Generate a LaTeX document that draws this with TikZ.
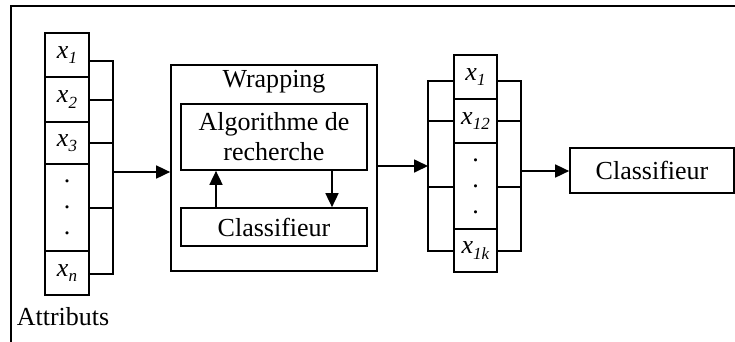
\documentclass[tikz,border=0pt]{standalone}
\usepackage{fontspec}
\setmainfont{Liberation Serif}
\usetikzlibrary{arrows.meta}
% italic x with a small italic index
\newcommand\xsub[1]{\textit{x}\raisebox{-0.2em}{\fontsize{17}{17}\selectfont\textit{#1}}}

\begin{document}
\begin{tikzpicture}[x=1pt,y=-1pt,line width=1.7pt,
  every node/.style={font=\fontsize{26}{30}\selectfont,inner sep=0pt},
  lcell/.style={draw,minimum width=44pt},
  rcell/.style={draw,minimum width=43pt},
  dotcell/.style={align=center,font=\fontsize{26}{26}\selectfont},
  panel/.style={draw,minimum width=186pt},
  link/.style={-{Triangle[length=14pt,width=13pt]}},
  wire/.style={line cap=rect}
]
\useasboundingbox (0,0) rectangle (735,341);

% outer frame (top and left edges)
\draw (740,6) -- (11,6) -- (11,345);

% ---- input attributes ----
\node[lcell,minimum height=44pt] (a1) at (67,55) {\xsub{1}};
\node[lcell,minimum height=45pt] (a2) at (67,99.5) {\xsub{2}};
\node[lcell,minimum height=42pt] (a3) at (67,143) {\xsub{3}};
\node[lcell,minimum height=87pt,dotcell] (ad) at (67,207.5) {.\\.\\.};
\node[lcell,minimum height=44pt] (an) at (67,273) {\xsub{n}};
\node[anchor=base west] (attr) at (16,325) {Attributs};

% collector bus
\coordinate (lt) at (113,61);
\coordinate (lb) at (113,274);
\coordinate (lm) at (113,172);
\draw[wire] (a1.east |- lt) -- (lt) -- (lb) -- (an.east |- lb);
\draw (a2.east |- 0,100) -- (lt |- 0,100);
\draw (a3.east) -- (a3.east -| lt);
\draw (ad.east |- 0,208) -- (lt |- 0,208);

% ---- wrapping block ----
\node[draw,minimum width=206pt,minimum height=206pt] (wrap) at (274,168) {};
\node (wlab) at (274,82) {Wrapping};
\node[panel,minimum height=66pt,align=center] (algo) at (274,137)
  {Algorithme de\\recherche};
\node[panel,minimum height=38pt] (clf) at (274,227)
  {\raisebox{0pt}[18pt][0pt]{Classifieur}};
\draw[link] (clf.north -| 216,0) -- (algo.south -| 216,0);
\draw[link] (algo.south -| 332,0) -- (clf.north -| 332,0);

\draw[link] (lm) -- (wrap.west |- lm);

% ---- selected subset ----
\node[rcell,minimum height=44pt] (b1) at (475.5,77) {\xsub{1}};
\node[rcell,minimum height=44pt] (b2) at (475.5,121) {\xsub{12}};
\node[rcell,minimum height=86pt,dotcell] (bd) at (475.5,186) {.\\.\\.};
\node[rcell,minimum height=43pt] (bk) at (475.5,250.5) {\xsub{1k}};

\coordinate (rlt) at (428,81);
\coordinate (rlb) at (428,251);
\coordinate (rli) at (428,166);
\coordinate (rrt) at (521,81);
\coordinate (rrb) at (521,251);
\coordinate (rro) at (521,171);
\draw[wire] (b1.west |- rlt) -- (rlt) -- (rlb) -- (bk.west |- rlb);
\draw[wire] (b1.east |- rrt) -- (rrt) -- (rrb) -- (bk.east |- rrb);
\draw (b2.west) -- (b2.west -| rlt);
\draw (b2.east) -- (b2.east -| rrt);
\draw (bd.west |- 0,187) -- (rlt |- 0,187);
\draw (bd.east |- 0,187) -- (rrt |- 0,187);

\draw[link] (wrap.east |- rli) -- (rli);

% ---- final classifier ----
\node[draw,minimum width=164pt,minimum height=45pt] (fin) at (652,170.5) {Classifieur};
\draw[link] (rro) -- (fin.west |- rro);
\end{tikzpicture}
\end{document}
